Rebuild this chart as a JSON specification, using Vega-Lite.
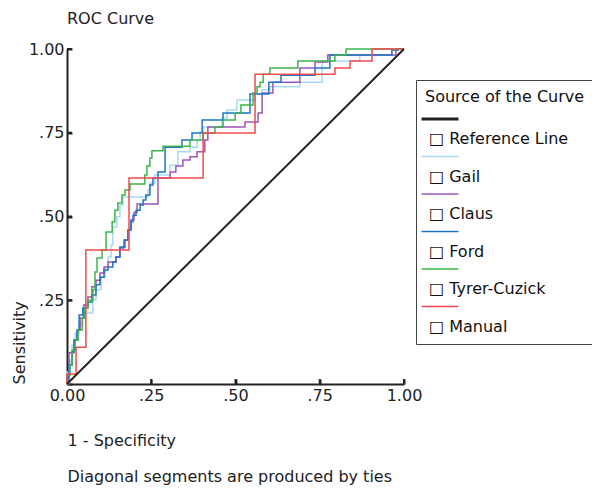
{
  "$schema": "https://vega.github.io/schema/vega-lite/v6.json",
  "width": 337,
  "height": 335,
  "autosize": {"type": "none"},
  "padding": {"left": 67, "top": 49, "right": 188, "bottom": 104},
  "background": "white",
  "config": {"font": "DejaVu Sans", "view": {"stroke": null}},
  "title": {"text": "ROC Curve", "anchor": "start", "frame": "group", "fontSize": 16, "fontWeight": "normal", "color": "#222222", "offset": 14},
  "data": {"values": [
    {"curve": "Reference Line", "x": 0, "y": 0}, {"curve": "Reference Line", "x": 1, "y": 1},
    {"curve": "Gail", "x": 0, "y": 0}, {"curve": "Gail", "x": 0.009, "y": 0.036}, {"curve": "Gail", "x": 0.015, "y": 0.072}, {"curve": "Gail", "x": 0.024, "y": 0.116}, {"curve": "Gail", "x": 0.036, "y": 0.152}, {"curve": "Gail", "x": 0.047, "y": 0.176}, {"curve": "Gail", "x": 0.077, "y": 0.212}, {"curve": "Gail", "x": 0.086, "y": 0.251}, {"curve": "Gail", "x": 0.101, "y": 0.281}, {"curve": "Gail", "x": 0.113, "y": 0.319}, {"curve": "Gail", "x": 0.122, "y": 0.349}, {"curve": "Gail", "x": 0.131, "y": 0.379}, {"curve": "Gail", "x": 0.136, "y": 0.415}, {"curve": "Gail", "x": 0.148, "y": 0.469}, {"curve": "Gail", "x": 0.157, "y": 0.499}, {"curve": "Gail", "x": 0.166, "y": 0.534}, {"curve": "Gail", "x": 0.240, "y": 0.558}, {"curve": "Gail", "x": 0.246, "y": 0.579}, {"curve": "Gail", "x": 0.261, "y": 0.600}, {"curve": "Gail", "x": 0.306, "y": 0.624}, {"curve": "Gail", "x": 0.329, "y": 0.654}, {"curve": "Gail", "x": 0.365, "y": 0.693}, {"curve": "Gail", "x": 0.386, "y": 0.707}, {"curve": "Gail", "x": 0.395, "y": 0.728}, {"curve": "Gail", "x": 0.404, "y": 0.752}, {"curve": "Gail", "x": 0.460, "y": 0.767}, {"curve": "Gail", "x": 0.475, "y": 0.794}, {"curve": "Gail", "x": 0.504, "y": 0.818}, {"curve": "Gail", "x": 0.558, "y": 0.848}, {"curve": "Gail", "x": 0.579, "y": 0.866}, {"curve": "Gail", "x": 0.602, "y": 0.878}, {"curve": "Gail", "x": 0.691, "y": 0.887}, {"curve": "Gail", "x": 0.757, "y": 0.901}, {"curve": "Gail", "x": 0.869, "y": 0.964}, {"curve": "Gail", "x": 0.964, "y": 0.982}, {"curve": "Gail", "x": 0.982, "y": 0.997}, {"curve": "Gail", "x": 1, "y": 1},
    {"curve": "Claus", "x": 0, "y": 0}, {"curve": "Claus", "x": 0.006, "y": 0}, {"curve": "Claus", "x": 0.021, "y": 0.093}, {"curve": "Claus", "x": 0.030, "y": 0.131}, {"curve": "Claus", "x": 0.039, "y": 0.161}, {"curve": "Claus", "x": 0.050, "y": 0.197}, {"curve": "Claus", "x": 0.062, "y": 0.236}, {"curve": "Claus", "x": 0.074, "y": 0.260}, {"curve": "Claus", "x": 0.086, "y": 0.290}, {"curve": "Claus", "x": 0.098, "y": 0.310}, {"curve": "Claus", "x": 0.110, "y": 0.331}, {"curve": "Claus", "x": 0.122, "y": 0.349}, {"curve": "Claus", "x": 0.145, "y": 0.364}, {"curve": "Claus", "x": 0.157, "y": 0.379}, {"curve": "Claus", "x": 0.169, "y": 0.406}, {"curve": "Claus", "x": 0.181, "y": 0.430}, {"curve": "Claus", "x": 0.190, "y": 0.460}, {"curve": "Claus", "x": 0.199, "y": 0.490}, {"curve": "Claus", "x": 0.208, "y": 0.513}, {"curve": "Claus", "x": 0.270, "y": 0.537}, {"curve": "Claus", "x": 0.306, "y": 0.615}, {"curve": "Claus", "x": 0.323, "y": 0.633}, {"curve": "Claus", "x": 0.344, "y": 0.651}, {"curve": "Claus", "x": 0.365, "y": 0.669}, {"curve": "Claus", "x": 0.386, "y": 0.678}, {"curve": "Claus", "x": 0.409, "y": 0.693}, {"curve": "Claus", "x": 0.418, "y": 0.728}, {"curve": "Claus", "x": 0.528, "y": 0.767}, {"curve": "Claus", "x": 0.567, "y": 0.782}, {"curve": "Claus", "x": 0.579, "y": 0.809}, {"curve": "Claus", "x": 0.611, "y": 0.869}, {"curve": "Claus", "x": 0.691, "y": 0.901}, {"curve": "Claus", "x": 0.736, "y": 0.943}, {"curve": "Claus", "x": 0.774, "y": 0.961}, {"curve": "Claus", "x": 0.976, "y": 0.982}, {"curve": "Claus", "x": 1, "y": 1},
    {"curve": "Ford", "x": 0, "y": 0}, {"curve": "Ford", "x": 0.006, "y": 0.018}, {"curve": "Ford", "x": 0.015, "y": 0.057}, {"curve": "Ford", "x": 0.021, "y": 0.096}, {"curve": "Ford", "x": 0.030, "y": 0.131}, {"curve": "Ford", "x": 0.036, "y": 0.161}, {"curve": "Ford", "x": 0.047, "y": 0.206}, {"curve": "Ford", "x": 0.062, "y": 0.227}, {"curve": "Ford", "x": 0.074, "y": 0.245}, {"curve": "Ford", "x": 0.086, "y": 0.266}, {"curve": "Ford", "x": 0.098, "y": 0.296}, {"curve": "Ford", "x": 0.110, "y": 0.319}, {"curve": "Ford", "x": 0.122, "y": 0.340}, {"curve": "Ford", "x": 0.136, "y": 0.349}, {"curve": "Ford", "x": 0.145, "y": 0.364}, {"curve": "Ford", "x": 0.157, "y": 0.379}, {"curve": "Ford", "x": 0.172, "y": 0.409}, {"curve": "Ford", "x": 0.181, "y": 0.430}, {"curve": "Ford", "x": 0.190, "y": 0.460}, {"curve": "Ford", "x": 0.196, "y": 0.484}, {"curve": "Ford", "x": 0.205, "y": 0.504}, {"curve": "Ford", "x": 0.217, "y": 0.519}, {"curve": "Ford", "x": 0.226, "y": 0.534}, {"curve": "Ford", "x": 0.234, "y": 0.549}, {"curve": "Ford", "x": 0.246, "y": 0.564}, {"curve": "Ford", "x": 0.255, "y": 0.594}, {"curve": "Ford", "x": 0.270, "y": 0.615}, {"curve": "Ford", "x": 0.291, "y": 0.633}, {"curve": "Ford", "x": 0.341, "y": 0.707}, {"curve": "Ford", "x": 0.371, "y": 0.728}, {"curve": "Ford", "x": 0.401, "y": 0.749}, {"curve": "Ford", "x": 0.463, "y": 0.788}, {"curve": "Ford", "x": 0.543, "y": 0.809}, {"curve": "Ford", "x": 0.599, "y": 0.866}, {"curve": "Ford", "x": 0.635, "y": 0.901}, {"curve": "Ford", "x": 0.736, "y": 0.922}, {"curve": "Ford", "x": 0.780, "y": 0.943}, {"curve": "Ford", "x": 0.964, "y": 0.982}, {"curve": "Ford", "x": 0.982, "y": 0.997}, {"curve": "Ford", "x": 1, "y": 1},
    {"curve": "Tyrer-Cuzick", "x": 0, "y": 0}, {"curve": "Tyrer-Cuzick", "x": 0.009, "y": 0.027}, {"curve": "Tyrer-Cuzick", "x": 0.015, "y": 0.057}, {"curve": "Tyrer-Cuzick", "x": 0.024, "y": 0.101}, {"curve": "Tyrer-Cuzick", "x": 0.033, "y": 0.131}, {"curve": "Tyrer-Cuzick", "x": 0.045, "y": 0.161}, {"curve": "Tyrer-Cuzick", "x": 0.053, "y": 0.197}, {"curve": "Tyrer-Cuzick", "x": 0.062, "y": 0.227}, {"curve": "Tyrer-Cuzick", "x": 0.077, "y": 0.251}, {"curve": "Tyrer-Cuzick", "x": 0.083, "y": 0.281}, {"curve": "Tyrer-Cuzick", "x": 0.089, "y": 0.334}, {"curve": "Tyrer-Cuzick", "x": 0.104, "y": 0.376}, {"curve": "Tyrer-Cuzick", "x": 0.116, "y": 0.400}, {"curve": "Tyrer-Cuzick", "x": 0.134, "y": 0.454}, {"curve": "Tyrer-Cuzick", "x": 0.142, "y": 0.484}, {"curve": "Tyrer-Cuzick", "x": 0.151, "y": 0.519}, {"curve": "Tyrer-Cuzick", "x": 0.163, "y": 0.540}, {"curve": "Tyrer-Cuzick", "x": 0.172, "y": 0.564}, {"curve": "Tyrer-Cuzick", "x": 0.187, "y": 0.579}, {"curve": "Tyrer-Cuzick", "x": 0.231, "y": 0.597}, {"curve": "Tyrer-Cuzick", "x": 0.237, "y": 0.624}, {"curve": "Tyrer-Cuzick", "x": 0.246, "y": 0.651}, {"curve": "Tyrer-Cuzick", "x": 0.252, "y": 0.675}, {"curve": "Tyrer-Cuzick", "x": 0.285, "y": 0.696}, {"curve": "Tyrer-Cuzick", "x": 0.365, "y": 0.710}, {"curve": "Tyrer-Cuzick", "x": 0.404, "y": 0.728}, {"curve": "Tyrer-Cuzick", "x": 0.439, "y": 0.749}, {"curve": "Tyrer-Cuzick", "x": 0.463, "y": 0.767}, {"curve": "Tyrer-Cuzick", "x": 0.499, "y": 0.788}, {"curve": "Tyrer-Cuzick", "x": 0.516, "y": 0.809}, {"curve": "Tyrer-Cuzick", "x": 0.552, "y": 0.833}, {"curve": "Tyrer-Cuzick", "x": 0.564, "y": 0.869}, {"curve": "Tyrer-Cuzick", "x": 0.573, "y": 0.887}, {"curve": "Tyrer-Cuzick", "x": 0.582, "y": 0.901}, {"curve": "Tyrer-Cuzick", "x": 0.602, "y": 0.925}, {"curve": "Tyrer-Cuzick", "x": 0.685, "y": 0.943}, {"curve": "Tyrer-Cuzick", "x": 0.795, "y": 0.964}, {"curve": "Tyrer-Cuzick", "x": 0.828, "y": 0.982}, {"curve": "Tyrer-Cuzick", "x": 1, "y": 1},
    {"curve": "Manual", "x": 0, "y": 0}, {"curve": "Manual", "x": 0.027, "y": 0.03}, {"curve": "Manual", "x": 0.056, "y": 0.11}, {"curve": "Manual", "x": 0.184, "y": 0.40}, {"curve": "Manual", "x": 0.404, "y": 0.615}, {"curve": "Manual", "x": 0.558, "y": 0.749}, {"curve": "Manual", "x": 0.795, "y": 0.925}, {"curve": "Manual", "x": 0.840, "y": 0.943}, {"curve": "Manual", "x": 0.905, "y": 0.964}, {"curve": "Manual", "x": 1, "y": 1}
  ]},
  "encoding": {
    "x": {"field": "x", "type": "quantitative", "scale": {"domain": [0, 1], "nice": false},
      "axis": {"values": [0, 0.25, 0.5, 0.75, 1], "labelExpr": "datum.value == 0 ? '0.00' : datum.value == 1 ? '1.00' : replace(format(datum.value, '.2f'), '0.', '.')", "grid": false, "domainColor": "#222222", "domainWidth": 2, "ticks": true, "tickColor": "#222222", "tickWidth": 2, "tickSize": -5, "labelFontSize": 16, "labelColor": "#222222", "labelPadding": 8, "labelFlush": false, "labelOverlap": false,
        "title": ["1 - Specificity", "Diagonal segments are produced by ties"], "titleAnchor": "start", "titleAlign": "left", "titleFontWeight": "normal", "titleFontSize": 16, "titleColor": "#222222", "titleLineHeight": 36, "titlePadding": 29}},
    "y": {"field": "y", "type": "quantitative", "scale": {"domain": [0, 1], "nice": false},
      "axis": {"values": [0, 0.25, 0.5, 0.75, 1], "labelExpr": "datum.value == 0 ? '' : datum.value == 1 ? '1.00' : replace(format(datum.value, '.2f'), '0.', '.')", "grid": false, "domainColor": "#222222", "domainWidth": 2, "ticks": true, "tickColor": "#222222", "tickWidth": 2, "tickSize": -5, "labelFontSize": 16, "labelColor": "#222222", "labelPadding": 8, "labelFlush": false, "labelOverlap": false,
        "title": "Sensitivity", "titleAnchor": "start", "titleFontWeight": "normal", "titleFontSize": 16, "titleColor": "#222222", "titlePadding": 1}},
    "color": {"field": "curve", "type": "nominal",
      "scale": {"domain": ["Reference Line", "Gail", "Claus", "Ford", "Tyrer-Cuzick", "Manual"], "range": ["#222222", "#a6d9f2", "#9e55b3", "#1f74c6", "#3db54b", "#ef4a4f"]},
      "legend": {"title": "Source of the Curve", "orient": "none", "legendX": 349, "legendY": 31, "direction": "vertical", "symbolType": "stroke", "symbolSize": 1369, "symbolStrokeWidth": 1.5, "symbolOffset": 7, "labelOffset": -19, "labelFontSize": 16, "labelColor": "#111111", "labelExpr": "'□ ' + datum.label", "titleFontSize": 16, "titleFontWeight": "normal", "titleColor": "#111111", "titlePadding": 6, "padding": 9, "strokeColor": "#444444", "fillColor": "white", "rowPadding": 1.5, "labelLimit": 200,
        "encode": {"labels": {"update": {"dy": {"value": 20}}}, "symbols": {"update": {"strokeWidth": {"signal": "datum.value === 'Reference Line' ? 3 : 1.5"}}}}}}
  },
  "layer": [
    {"transform": [{"filter": "datum.curve !== 'Reference Line'"}], "mark": {"type": "line", "interpolate": "step-before", "strokeWidth": 1.5}},
    {"transform": [{"filter": "datum.curve === 'Reference Line'"}], "mark": {"type": "line", "strokeWidth": 2}},
    {"data": {"values": [{"x": 0.25, "y": 0}, {"x": 0.5, "y": 0}, {"x": 0.75, "y": 0}, {"x": 1, "y": 0}]},
     "mark": {"type": "rule", "strokeWidth": 2, "color": "#222222"},
     "encoding": {"color": {"value": "#222222"}, "y2": {"datum": 0.015}}},
    {"data": {"values": [{"x": 0, "y": 0.25}, {"x": 0, "y": 0.5}, {"x": 0, "y": 0.75}, {"x": 0, "y": 1}]},
     "mark": {"type": "rule", "strokeWidth": 2, "color": "#222222"},
     "encoding": {"color": {"value": "#222222"}, "x2": {"datum": 0.015}}}
  ]
}
